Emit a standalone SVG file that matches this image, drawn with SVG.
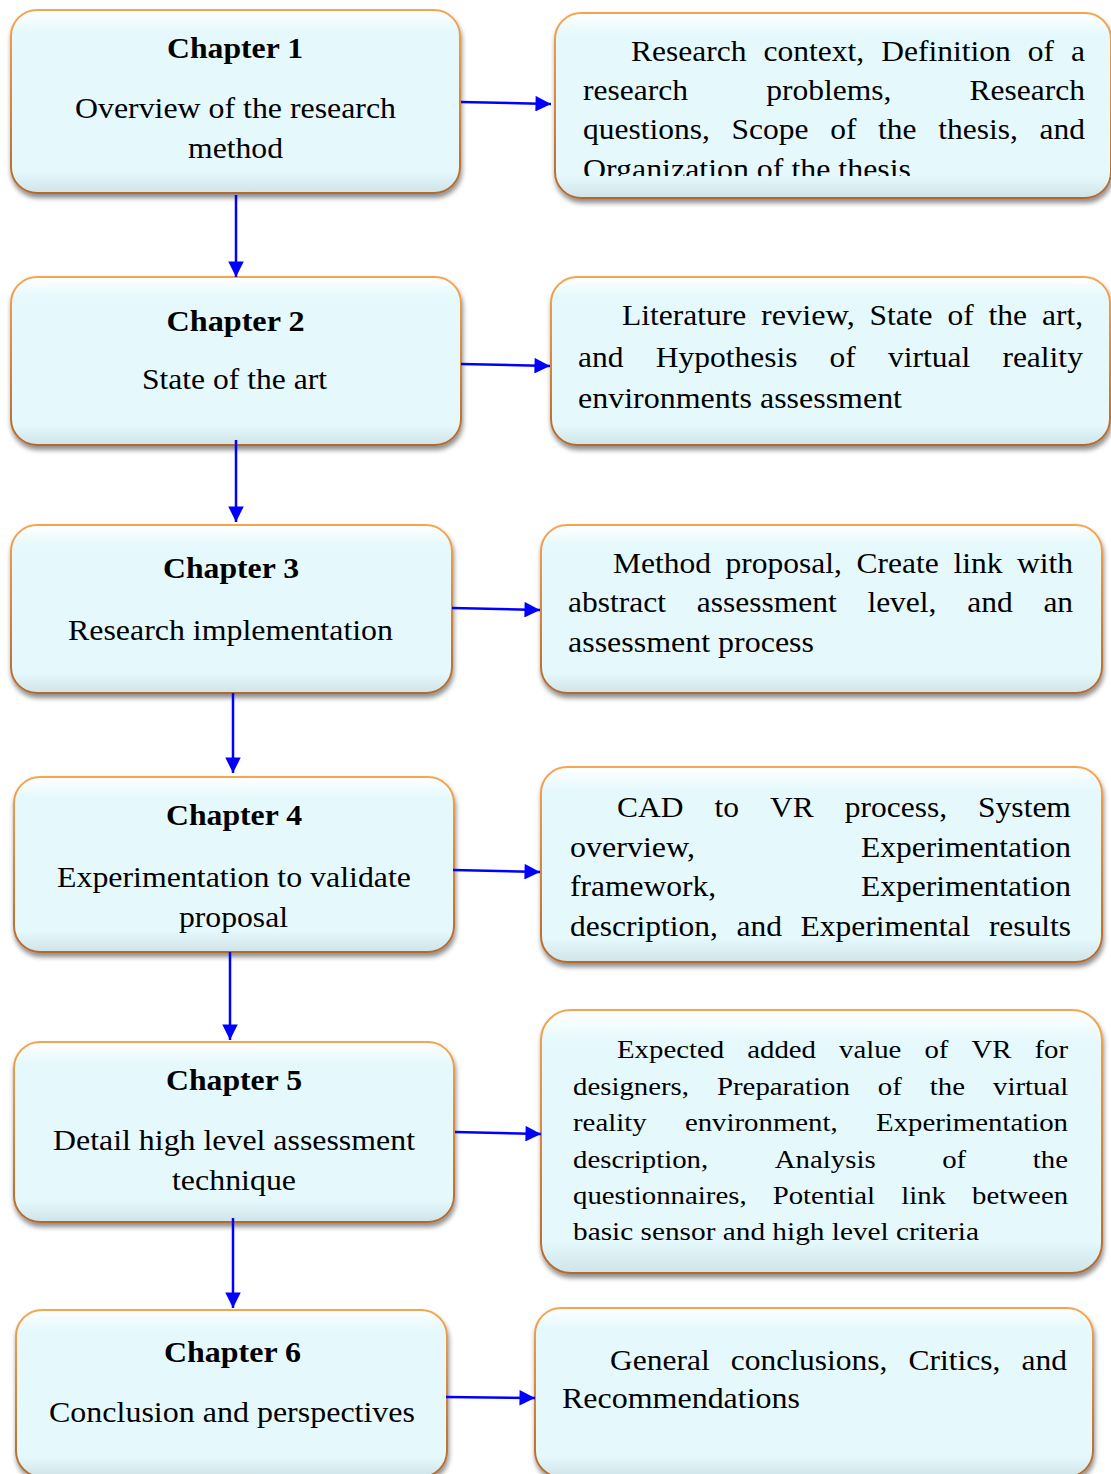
<svg xmlns="http://www.w3.org/2000/svg" width="1111" height="1474" viewBox="0 0 1111 1474">
<style>
.box{fill:url(#fillG);stroke:url(#strokeG);stroke-width:2;filter:url(#sh)}
.t{font-family:'Liberation Serif','Times New Roman',serif;fill:#000}
.c{font-size:29px;text-anchor:middle}
.b{font-weight:bold}
.r{font-size:28.5px}
.s{font-size:26px}
.con{stroke:#0000FF;stroke-width:2.5;fill:none;marker-end:url(#ah)}
</style>
<defs>
<linearGradient id="fillG" x1="0" y1="0" x2="0" y2="1">
<stop offset="0" stop-color="#FFFFFF"/>
<stop offset="0.12" stop-color="#E5F9FD"/>
<stop offset="0.88" stop-color="#E5F9FD"/>
<stop offset="1" stop-color="#CFE4E8"/>
</linearGradient>
<linearGradient id="strokeG" x1="0" y1="0" x2="0" y2="1">
<stop offset="0" stop-color="#F6A550"/>
<stop offset="1" stop-color="#B4692C"/>
</linearGradient>
<filter id="sh" x="-5%" y="-5%" width="110%" height="120%">
<feGaussianBlur in="SourceAlpha" stdDeviation="2.5"/>
<feOffset dx="1" dy="4" result="o"/>
<feComponentTransfer><feFuncA type="linear" slope="0.45"/></feComponentTransfer>
<feMerge><feMergeNode/><feMergeNode in="SourceGraphic"/></feMerge>
</filter>
<marker id="ah" viewBox="0 0 10 10" refX="10" refY="5" markerWidth="6.4" markerHeight="6.2" markerUnits="strokeWidth" orient="auto">
<path d="M0,0 L10,5 L0,10 z" fill="#0000FF"/>
</marker>
<clipPath id="clipR1"><rect x="555" y="13" width="556" height="163"/></clipPath>
</defs>

<g id="node-ch1">
<rect class="box" x="11" y="10" width="449" height="183" rx="26"/>
<text class="t c b" x="235" y="58" textLength="136" lengthAdjust="spacingAndGlyphs">Chapter 1</text>
<text class="t c" x="235.5" y="118" textLength="321" lengthAdjust="spacingAndGlyphs">Overview of the research</text>
<text class="t c" x="235.5" y="158" textLength="95" lengthAdjust="spacingAndGlyphs">method</text>
</g>

<g id="node-d1">
<rect class="box" x="555" y="13" width="556" height="185" rx="26"/>
<g clip-path="url(#clipR1)">
<text class="t r" y="61"><tspan x="631" textLength="115.4" lengthAdjust="spacingAndGlyphs">Research</tspan> <tspan x="763.5" textLength="100.6" lengthAdjust="spacingAndGlyphs">context,</tspan> <tspan x="881.2" textLength="129.5" lengthAdjust="spacingAndGlyphs">Definition</tspan> <tspan x="1027.7" textLength="26.2" lengthAdjust="spacingAndGlyphs">of</tspan> <tspan x="1071" textLength="14" lengthAdjust="spacingAndGlyphs">a</tspan></text>
<text class="t r" y="100"><tspan x="583" textLength="104.9" lengthAdjust="spacingAndGlyphs">research</tspan> <tspan x="766.2" textLength="125.1" lengthAdjust="spacingAndGlyphs">problems,</tspan> <tspan x="969.5" textLength="115.4" lengthAdjust="spacingAndGlyphs">Research</tspan></text>
<text class="t r" y="139"><tspan x="583" textLength="126.9" lengthAdjust="spacingAndGlyphs">questions,</tspan> <tspan x="731.6" textLength="77" lengthAdjust="spacingAndGlyphs">Scope</tspan> <tspan x="830.2" textLength="26.2" lengthAdjust="spacingAndGlyphs">of</tspan> <tspan x="878.1" textLength="38.5" lengthAdjust="spacingAndGlyphs">the</tspan> <tspan x="938.3" textLength="79.6" lengthAdjust="spacingAndGlyphs">thesis,</tspan> <tspan x="1039.5" textLength="45.5" lengthAdjust="spacingAndGlyphs">and</tspan></text>
<text class="t r" x="583" y="179" textLength="328" lengthAdjust="spacingAndGlyphs">Organization of the thesis</text>
</g>
</g>

<g id="node-ch2">
<rect class="box" x="11" y="277" width="450" height="168" rx="26"/>
<text class="t c b" x="235.5" y="331" textLength="138" lengthAdjust="spacingAndGlyphs">Chapter 2</text>
<text class="t c" x="234.5" y="389" textLength="185" lengthAdjust="spacingAndGlyphs">State of the art</text>
</g>

<g id="node-d2">
<rect class="box" x="551" y="277" width="559" height="168" rx="26"/>
<text class="t r" y="325"><tspan x="622" textLength="124.2" lengthAdjust="spacingAndGlyphs">Literature</tspan> <tspan x="761.1" textLength="93.6" lengthAdjust="spacingAndGlyphs">review,</tspan> <tspan x="869.6" textLength="63" lengthAdjust="spacingAndGlyphs">State</tspan> <tspan x="947.5" textLength="26.2" lengthAdjust="spacingAndGlyphs">of</tspan> <tspan x="988.6" textLength="38.5" lengthAdjust="spacingAndGlyphs">the</tspan> <tspan x="1042" textLength="41.1" lengthAdjust="spacingAndGlyphs">art,</tspan></text>
<text class="t r" y="367"><tspan x="578" textLength="45.5" lengthAdjust="spacingAndGlyphs">and</tspan> <tspan x="655.7" textLength="141.7" lengthAdjust="spacingAndGlyphs">Hypothesis</tspan> <tspan x="829.6" textLength="26.2" lengthAdjust="spacingAndGlyphs">of</tspan> <tspan x="888" textLength="82.2" lengthAdjust="spacingAndGlyphs">virtual</tspan> <tspan x="1002.4" textLength="80.5" lengthAdjust="spacingAndGlyphs">reality</tspan></text>
<text class="t r" x="578" y="408" textLength="324" lengthAdjust="spacingAndGlyphs">environments assessment</text>
</g>

<g id="node-ch3">
<rect class="box" x="11" y="525" width="441" height="168" rx="26"/>
<text class="t c b" x="231" y="578" textLength="136" lengthAdjust="spacingAndGlyphs">Chapter 3</text>
<text class="t c" x="230.5" y="640" textLength="325" lengthAdjust="spacingAndGlyphs">Research implementation</text>
</g>

<g id="node-d3">
<rect class="box" x="541" y="525" width="561" height="168" rx="26"/>
<text class="t r" y="573"><tspan x="613" textLength="98" lengthAdjust="spacingAndGlyphs">Method</tspan> <tspan x="725.6" textLength="116.4" lengthAdjust="spacingAndGlyphs">proposal,</tspan> <tspan x="856.6" textLength="82.2" lengthAdjust="spacingAndGlyphs">Create</tspan> <tspan x="953.4" textLength="49" lengthAdjust="spacingAndGlyphs">link</tspan> <tspan x="1017" textLength="56" lengthAdjust="spacingAndGlyphs">with</tspan></text>
<text class="t r" y="612"><tspan x="568" textLength="98" lengthAdjust="spacingAndGlyphs">abstract</tspan> <tspan x="696.7" textLength="140" lengthAdjust="spacingAndGlyphs">assessment</tspan> <tspan x="867.4" textLength="69.1" lengthAdjust="spacingAndGlyphs">level,</tspan> <tspan x="967.2" textLength="45.5" lengthAdjust="spacingAndGlyphs">and</tspan> <tspan x="1043.4" textLength="29.7" lengthAdjust="spacingAndGlyphs">an</tspan></text>
<text class="t r" x="568" y="652" textLength="246" lengthAdjust="spacingAndGlyphs">assessment process</text>
</g>

<g id="node-ch4">
<rect class="box" x="14" y="777" width="440" height="175" rx="26"/>
<text class="t c b" x="234" y="825" textLength="136" lengthAdjust="spacingAndGlyphs">Chapter 4</text>
<text class="t c" x="234" y="887" textLength="354" lengthAdjust="spacingAndGlyphs">Experimentation to validate</text>
<text class="t c" x="233.5" y="927" textLength="109" lengthAdjust="spacingAndGlyphs">proposal</text>
</g>

<g id="node-d4">
<rect class="box" x="541" y="767" width="561" height="195" rx="26"/>
<text class="t r" y="817"><tspan x="617" textLength="66.5" lengthAdjust="spacingAndGlyphs">CAD</tspan> <tspan x="714.5" textLength="24.5" lengthAdjust="spacingAndGlyphs">to</tspan> <tspan x="770" textLength="43.7" lengthAdjust="spacingAndGlyphs">VR</tspan> <tspan x="844.8" textLength="102.3" lengthAdjust="spacingAndGlyphs">process,</tspan> <tspan x="978.1" textLength="92.8" lengthAdjust="spacingAndGlyphs">System</tspan></text>
<text class="t r" y="856.5"><tspan x="570" textLength="125.1" lengthAdjust="spacingAndGlyphs">overview,</tspan> <tspan x="861" textLength="210" lengthAdjust="spacingAndGlyphs">Experimentation</tspan></text>
<text class="t r" y="896"><tspan x="570" textLength="146.1" lengthAdjust="spacingAndGlyphs">framework,</tspan> <tspan x="861" textLength="210" lengthAdjust="spacingAndGlyphs">Experimentation</tspan></text>
<text class="t r" y="935.5"><tspan x="570" textLength="147.9" lengthAdjust="spacingAndGlyphs">description,</tspan> <tspan x="736.5" textLength="45.5" lengthAdjust="spacingAndGlyphs">and</tspan> <tspan x="800.6" textLength="169.7" lengthAdjust="spacingAndGlyphs">Experimental</tspan> <tspan x="988.9" textLength="82.2" lengthAdjust="spacingAndGlyphs">results</tspan></text>
</g>

<g id="node-ch5">
<rect class="box" x="14" y="1042" width="440" height="180" rx="26"/>
<text class="t c b" x="234" y="1090" textLength="136" lengthAdjust="spacingAndGlyphs">Chapter 5</text>
<text class="t c" x="234" y="1150" textLength="362" lengthAdjust="spacingAndGlyphs">Detail high level assessment</text>
<text class="t c" x="234" y="1190" textLength="124" lengthAdjust="spacingAndGlyphs">technique</text>
</g>

<g id="node-d5">
<rect class="box" x="541" y="1010" width="561" height="263" rx="30"/>
<text class="t s" y="1058"><tspan x="617" textLength="107.2" lengthAdjust="spacingAndGlyphs">Expected</tspan> <tspan x="747.2" textLength="68.8" lengthAdjust="spacingAndGlyphs">added</tspan> <tspan x="839" textLength="62.4" lengthAdjust="spacingAndGlyphs">value</tspan> <tspan x="924.4" textLength="24" lengthAdjust="spacingAndGlyphs">of</tspan> <tspan x="971.4" textLength="40" lengthAdjust="spacingAndGlyphs">VR</tspan> <tspan x="1034.4" textLength="33.6" lengthAdjust="spacingAndGlyphs">for</tspan></text>
<text class="t s" y="1094.5"><tspan x="573" textLength="116" lengthAdjust="spacingAndGlyphs">designers,</tspan> <tspan x="717" textLength="132.8" lengthAdjust="spacingAndGlyphs">Preparation</tspan> <tspan x="877.8" textLength="24" lengthAdjust="spacingAndGlyphs">of</tspan> <tspan x="929.8" textLength="35.2" lengthAdjust="spacingAndGlyphs">the</tspan> <tspan x="993" textLength="75.2" lengthAdjust="spacingAndGlyphs">virtual</tspan></text>
<text class="t s" y="1131"><tspan x="573" textLength="73.6" lengthAdjust="spacingAndGlyphs">reality</tspan> <tspan x="684.9" textLength="152.8" lengthAdjust="spacingAndGlyphs">environment,</tspan> <tspan x="876" textLength="192" lengthAdjust="spacingAndGlyphs">Experimentation</tspan></text>
<text class="t s" y="1167.5"><tspan x="573" textLength="135.2" lengthAdjust="spacingAndGlyphs">description,</tspan> <tspan x="774.8" textLength="100.8" lengthAdjust="spacingAndGlyphs">Analysis</tspan> <tspan x="942.2" textLength="24" lengthAdjust="spacingAndGlyphs">of</tspan> <tspan x="1032.8" textLength="35.2" lengthAdjust="spacingAndGlyphs">the</tspan></text>
<text class="t s" y="1204"><tspan x="573" textLength="173.6" lengthAdjust="spacingAndGlyphs">questionnaires,</tspan> <tspan x="772.7" textLength="102.4" lengthAdjust="spacingAndGlyphs">Potential</tspan> <tspan x="901.2" textLength="44.8" lengthAdjust="spacingAndGlyphs">link</tspan> <tspan x="972.1" textLength="96" lengthAdjust="spacingAndGlyphs">between</tspan></text>
<text class="t s" x="573" y="1240" textLength="406" lengthAdjust="spacingAndGlyphs">basic sensor and high level criteria</text>
</g>

<g id="node-ch6">
<rect class="box" x="16" y="1310" width="431" height="167" rx="26"/>
<text class="t c b" x="232.5" y="1362" textLength="137" lengthAdjust="spacingAndGlyphs">Chapter 6</text>
<text class="t c" x="232" y="1422" textLength="366" lengthAdjust="spacingAndGlyphs">Conclusion and perspectives</text>
</g>

<g id="node-d6">
<rect class="box" x="535" y="1308" width="558" height="169" rx="26"/>
<text class="t r" y="1370"><tspan x="610" textLength="99.7" lengthAdjust="spacingAndGlyphs">General</tspan> <tspan x="730.8" textLength="156.6" lengthAdjust="spacingAndGlyphs">conclusions,</tspan> <tspan x="908.5" textLength="91.9" lengthAdjust="spacingAndGlyphs">Critics,</tspan> <tspan x="1021.5" textLength="45.5" lengthAdjust="spacingAndGlyphs">and</tspan></text>
<text class="t r" x="562" y="1408" textLength="238" lengthAdjust="spacingAndGlyphs">Recommendations</text>
</g>

<g id="connectors">
<line class="con" x1="236" y1="195" x2="236" y2="277"/>
<line class="con" x1="461" y1="102" x2="551" y2="104"/>
<line class="con" x1="236" y1="440" x2="236" y2="522"/>
<line class="con" x1="461" y1="364" x2="550" y2="366"/>
<line class="con" x1="233" y1="693" x2="233" y2="773"/>
<line class="con" x1="452" y1="608" x2="540" y2="610"/>
<line class="con" x1="230" y1="952" x2="230" y2="1040"/>
<line class="con" x1="453" y1="870" x2="540" y2="872"/>
<line class="con" x1="233" y1="1218" x2="233" y2="1308"/>
<line class="con" x1="455" y1="1132" x2="541" y2="1134"/>
<line class="con" x1="446" y1="1397" x2="535" y2="1398"/>
</g>
</svg>
